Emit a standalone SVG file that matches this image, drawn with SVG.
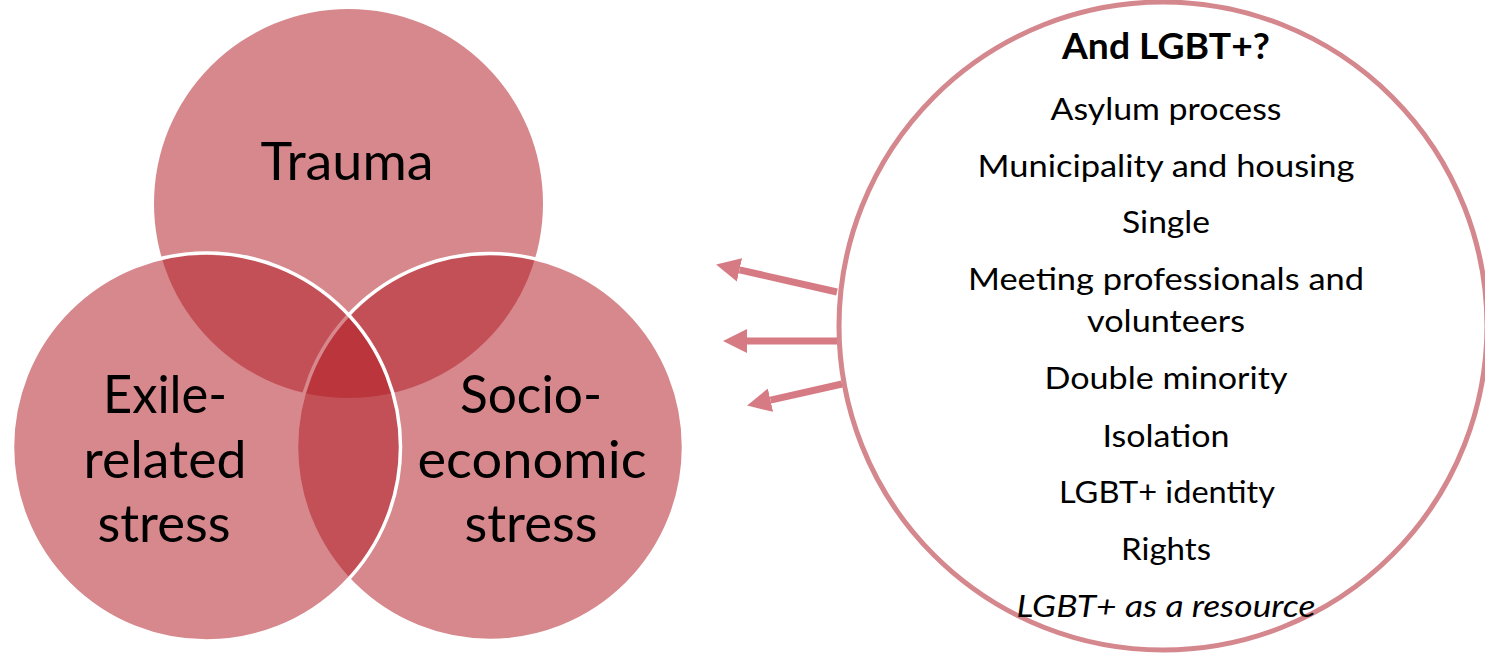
<svg xmlns="http://www.w3.org/2000/svg" width="1485" height="654" viewBox="0 0 1485 654">
  <style>
    .venn { fill: #b21e26; fill-opacity: 0.53; }
    .vstroke { stroke: #ffffff; stroke-width: 3.5; }
    .vlabel { font-family: Lato, "Open Sans", sans-serif; font-size: 52px; fill: #000; text-anchor: middle; }
    .item { font-family: Lato, "Open Sans", sans-serif; font-size: 30px; fill: #000; text-anchor: middle; }
    .title { font-family: Lato, "Open Sans", sans-serif; font-size: 36px; font-weight: bold; fill: #000; text-anchor: middle; }
    .conn { stroke: #d67b83; stroke-width: 7; fill: none; }
  </style>
  <defs>
    <marker id="arrow" markerUnits="userSpaceOnUse" markerWidth="24" markerHeight="24" viewBox="0 0 22 22" refX="0" refY="11" orient="auto">
      <path d="M0,0 L22,11 L0,22 z" fill="#d67b83"/>
    </marker>
  </defs>
  <rect width="1485" height="654" fill="#ffffff"/>

  <g id="trauma">
    <circle class="venn" cx="348.5" cy="203.5" r="194.5"/>
    <text class="vlabel" x="347" y="180" textLength="173" lengthAdjust="spacingAndGlyphs">Trauma</text>
  </g>
  <g id="socio">
    <circle class="venn vstroke" cx="490" cy="447" r="193.5"/>
  </g>
  <g id="exile">
    <circle class="venn vstroke" cx="206.5" cy="447" r="194"/>
  </g>
  <g id="exile-label">
    <text class="vlabel" x="165" y="413" textLength="124" lengthAdjust="spacingAndGlyphs">Exile-</text>
    <text class="vlabel" x="165" y="478" textLength="163" lengthAdjust="spacingAndGlyphs">related</text>
    <text class="vlabel" x="164" y="542" textLength="133" lengthAdjust="spacingAndGlyphs">stress</text>
  </g>
  <g id="socio-label">
    <text class="vlabel" x="531" y="413" textLength="142" lengthAdjust="spacingAndGlyphs">Socio-</text>
    <text class="vlabel" x="532" y="478" textLength="229" lengthAdjust="spacingAndGlyphs">economic</text>
    <text class="vlabel" x="531" y="542" textLength="133" lengthAdjust="spacingAndGlyphs">stress</text>
  </g>

  <g id="connectors">
    <line class="conn" x1="837" y1="292" x2="739.5" y2="269.9" marker-end="url(#arrow)"/>
    <line class="conn" x1="838" y1="341" x2="747" y2="341" marker-end="url(#arrow)"/>
    <line class="conn" x1="842" y1="384" x2="770.5" y2="400.2" marker-end="url(#arrow)"/>
  </g>

  <g id="lgbt">
    <circle cx="1163" cy="326" r="324" fill="none" stroke="#d4878d" stroke-width="5"/>
    <text class="title" x="1166" y="59" textLength="208" lengthAdjust="spacingAndGlyphs">And LGBT+?</text>
    <text class="item" x="1166" y="120" textLength="231" lengthAdjust="spacingAndGlyphs">Asylum process</text>
    <text class="item" x="1166" y="177" textLength="377" lengthAdjust="spacingAndGlyphs">Municipality and housing</text>
    <text class="item" x="1166" y="233" textLength="88" lengthAdjust="spacingAndGlyphs">Single</text>
    <text class="item" x="1166" y="290" textLength="396" lengthAdjust="spacingAndGlyphs">Meeting professionals and</text>
    <text class="item" x="1166" y="332" textLength="158" lengthAdjust="spacingAndGlyphs">volunteers</text>
    <text class="item" x="1166" y="389" textLength="243" lengthAdjust="spacingAndGlyphs">Double minority</text>
    <text class="item" x="1166" y="447" textLength="127" lengthAdjust="spacingAndGlyphs">Isolation</text>
    <text class="item" x="1167" y="503" textLength="216" lengthAdjust="spacingAndGlyphs">LGBT+ identity</text>
    <text class="item" x="1166" y="560" textLength="90" lengthAdjust="spacingAndGlyphs">Rights</text>
    <text class="item" x="1166" y="617" font-style="italic" textLength="299" lengthAdjust="spacingAndGlyphs">LGBT+ as a resource</text>
  </g>
</svg>
